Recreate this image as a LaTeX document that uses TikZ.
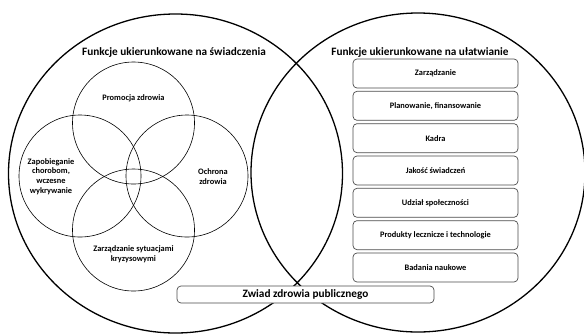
\documentclass[tikz,border=0pt]{standalone}
\usepackage{fontspec}
\setmainfont{Carlito}
\usetikzlibrary{shapes.geometric}
\begin{document}
\begin{tikzpicture}[
    x=1bp, y=-1bp,
    bigring/.style={draw, ellipse, line width=1.3bp, minimum width=334bp, minimum height=319bp, inner sep=0pt},
    ring/.style={draw, circle, line width=0.6bp, minimum size=122bp, inner sep=0pt},
    lbl/.style={font=\bfseries\fontsize{8.4}{9.8}\selectfont, align=center},
    title/.style={font=\bfseries\fontsize{11.3}{13}\selectfont},
    task/.style={draw=black!70, rounded corners=4bp, line width=0.7bp, fill=white,
      minimum width=165bp, minimum height=29bp, inner sep=0pt,
      font=\bfseries\fontsize{8.4}{9.8}\selectfont}]
    \useasboundingbox (0,0) rectangle (584,334);
    % the two big fields
    \node[bigring] (care) at (175.5,173.5) {};
    \node[bigring] (ease) at (418,172.5) {};
    \node[title] (caretitle) at (174,52) {Funkcje ukierunkowane na świadczenia};
    \node[title] (easetitle) at (420,52) {Funkcje ukierunkowane na ułatwianie};
    % services
    \node[ring] (promo) at (133.5,123) {};
    \node[ring] (prev) at (80,176) {};
    \node[ring] (prot) at (187,176) {};
    \node[ring] (crisis) at (133.5,230) {};
    \node[lbl] (promolbl) at (133.5,98) {Promocja zdrowia};
    \node[lbl] (prevlbl) at (51,176.5) {Zapobieganie\\chorobom,\\wczesne\\wykrywanie};
    \node[lbl] (protlbl) at (213,176.5) {Ochrona\\zdrowia};
    \node[lbl] (crisislbl) at (133.5,254.5) {Zarządzanie sytuacjami\\kryzysowymi};
    % enabling functions
    \foreach \name/\txt [count=\i from 0] in {mgmt/Zarządzanie,
        plan/{Planowanie, finansowanie}, staff/Kadra, qual/Jakość świadczeń,
        comm/Udział społeczności, prod/Produkty lecznicze i technologie,
        res/Badania naukowe}
      \node[task] (\name) at (435.5,73.5+32.33*\i) {\txt};
    % surveillance
    \node[task, minimum width=257bp, minimum height=17bp, font=\bfseries\fontsize{11.3}{12}\selectfont] (watch) at (305.5,294.5) {Zwiad zdrowia publicznego};
\end{tikzpicture}
\end{document}
